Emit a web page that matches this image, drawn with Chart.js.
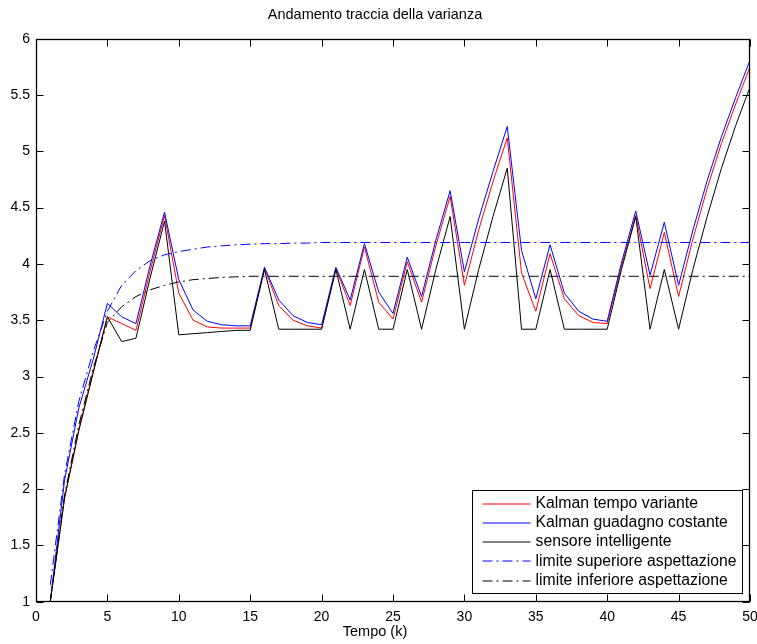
<!DOCTYPE html>
<html lang="it">
<head>
<meta charset="UTF-8">
<title>Andamento traccia della varianza</title>
<script src="https://cdn.jsdelivr.net/npm/chart.js@4"></script>
<style>
  body { margin: 0; background: #fff; }
  #wrap { width: 757px; height: 644px; }
</style>
</head>
<body>
<div id="wrap"><canvas id="chart" width="757" height="644"></canvas></div>
<script>
// istanti k
const tempo = [1, 2, 3, 4, 5, 6, 7, 8, 9, 10, 11, 12, 13, 14, 15, 16, 17, 18, 19, 20,
  21, 22, 23, 24, 25, 26, 27, 28, 29, 30, 31, 32, 33, 34, 35, 36, 37, 38, 39, 40,
  41, 42, 43, 44, 45, 46, 47, 48, 49, 50];

// traccia della varianza
const kalmanVariante = [1.00, 1.92, 2.53, 3.04, 3.53, 3.47, 3.41, 3.94, 4.43, 3.74,
  3.50, 3.44, 3.43, 3.43, 3.43, 3.96, 3.63, 3.50, 3.45, 3.43,
  3.96, 3.63, 4.15, 3.66, 3.51, 4.02, 3.66, 4.16, 4.60, 3.81,
  4.30, 4.73, 5.12, 3.92, 3.58, 4.09, 3.69, 3.54, 3.48, 3.47,
  3.98, 4.43, 3.78, 4.28, 3.71, 4.22, 4.67, 5.07, 5.42, 5.75];

const kalmanCostante = [1.00, 2.08, 2.72, 3.15, 3.65, 3.53, 3.47, 3.99, 4.46, 3.86,
  3.59, 3.49, 3.46, 3.45, 3.45, 3.97, 3.68, 3.54, 3.48, 3.46,
  3.97, 3.68, 4.18, 3.75, 3.56, 4.06, 3.71, 4.21, 4.65, 3.93,
  4.40, 4.82, 5.22, 4.12, 3.69, 4.17, 3.74, 3.58, 3.51, 3.49,
  4.01, 4.47, 3.90, 4.37, 3.81, 4.30, 4.74, 5.13, 5.48, 5.81];

const sensore = [1.00, 1.92, 2.52, 3.03, 3.53, 3.31, 3.34, 3.88, 4.38, 3.37,
  3.38, 3.39, 3.40, 3.41, 3.41, 3.95, 3.42, 3.42, 3.42, 3.42,
  3.95, 3.42, 3.95, 3.42, 3.42, 3.95, 3.42, 3.95, 4.42, 3.42,
  3.95, 4.42, 4.85, 3.42, 3.42, 3.95, 3.42, 3.42, 3.42, 3.42,
  3.95, 4.42, 3.42, 3.95, 3.42, 3.95, 4.42, 4.85, 5.23, 5.57];

const limiteSup = [1.15, 2.13, 2.78, 3.22, 3.58, 3.81, 3.94, 4.03, 4.08, 4.11,
  4.13, 4.15, 4.16, 4.17, 4.175, 4.18, 4.18, 4.185, 4.185, 4.19,
  4.19, 4.19, 4.19, 4.19, 4.19, 4.19, 4.19, 4.19, 4.19, 4.19,
  4.19, 4.19, 4.19, 4.19, 4.19, 4.19, 4.19, 4.19, 4.19, 4.19,
  4.19, 4.19, 4.19, 4.19, 4.19, 4.19, 4.19, 4.19, 4.19, 4.19];

const limiteInf = [1.00, 1.95, 2.57, 3.07, 3.48, 3.62, 3.71, 3.77, 3.81, 3.84,
  3.86, 3.87, 3.88, 3.885, 3.89, 3.89, 3.89, 3.89, 3.89, 3.89,
  3.89, 3.89, 3.89, 3.89, 3.89, 3.89, 3.89, 3.89, 3.89, 3.89,
  3.89, 3.89, 3.89, 3.89, 3.89, 3.89, 3.89, 3.89, 3.89, 3.89,
  3.89, 3.89, 3.89, 3.89, 3.89, 3.89, 3.89, 3.89, 3.89, 3.89];

const xTicks = [0, 5, 10, 15, 20, 25, 30, 35, 40, 45, 50];
const yTicks = [1, 1.5, 2, 2.5, 3, 3.5, 4, 4.5, 5, 5.5, 6];

const font = "'Liberation Sans', Arial, Helvetica, sans-serif";

const toXY = ys => ys.map((y, i) => ({ x: tempo[i], y: y }));

// riquadro stile matlab: bordo, tacche interne, legenda
const matlabBox = {
  id: 'matlabBox',
  afterDraw(chart) {
    const ctx = chart.ctx;
    const a = chart.chartArea;
    const sx = chart.scales.x, sy = chart.scales.y;
    const L = Math.round(a.left) + 0.5, R = Math.round(a.right) - 0.5;
    const T = Math.round(a.top) + 0.5, B = Math.round(a.bottom) - 0.5;
    const tk = 7;
    ctx.save();
    ctx.strokeStyle = '#000';
    ctx.lineWidth = 1;
    ctx.setLineDash([]);
    ctx.beginPath();
    xTicks.forEach(v => {
      const px = Math.round(sx.getPixelForValue(v)) + 0.5;
      ctx.moveTo(px, B); ctx.lineTo(px, B - tk);
      ctx.moveTo(px, T); ctx.lineTo(px, T + tk);
    });
    yTicks.forEach(v => {
      const py = Math.round(sy.getPixelForValue(v)) + 0.5;
      ctx.moveTo(L, py); ctx.lineTo(L + tk, py);
      ctx.moveTo(R, py); ctx.lineTo(R - tk, py);
    });
    ctx.stroke();
    ctx.lineWidth = 1.3;
    ctx.strokeRect(L, T, R - L, B - T);
    ctx.lineWidth = 1;

    // legenda
    const ds = chart.data.datasets;
    ctx.font = '15.8px ' + font;
    const maxW = Math.max(...ds.map(d => ctx.measureText(d.label).width));
    const rowH = 19.3, lineLen = 48;
    const w = Math.round(10 + lineLen + 5 + maxW + 6);
    const h = Math.round(ds.length * rowH + 6);
    const bx = Math.round(a.right - 8 - w) + 0.5;
    const by = Math.round(a.bottom - 9 - h) + 0.5;
    ctx.fillStyle = '#fff';
    ctx.fillRect(bx, by, w, h);
    ctx.strokeStyle = '#000';
    ctx.strokeRect(bx, by, w, h);
    ds.forEach((d, i) => {
      const cy = by + 13 + i * rowH;
      ctx.strokeStyle = d.borderColor;
      ctx.setLineDash(d.borderDash || []);
      ctx.beginPath();
      ctx.moveTo(bx + 10, Math.round(cy));
      ctx.lineTo(bx + 10 + lineLen, Math.round(cy));
      ctx.stroke();
      ctx.setLineDash([]);
      ctx.fillStyle = '#000';
      ctx.textBaseline = 'middle';
      ctx.textAlign = 'left';
      ctx.fillText(d.label, bx + 10 + lineLen + 5, cy);
    });
    ctx.restore();
  }
};

new Chart(document.getElementById('chart'), {
  type: 'line',
  data: {
    datasets: [
      { label: 'Kalman tempo variante', data: toXY(kalmanVariante), borderColor: '#ff0000', order: 5 },
      { label: 'Kalman guadagno costante', data: toXY(kalmanCostante), borderColor: '#0000ff', order: 4 },
      { label: 'sensore intelligente', data: toXY(sensore), borderColor: '#000000', order: 3 },
      { label: 'limite superiore aspettazione', data: toXY(limiteSup), borderColor: '#0000ff', borderDash: [10, 4, 2, 4], order: 2 },
      { label: 'limite inferiore aspettazione', data: toXY(limiteInf), borderColor: '#000000', borderDash: [10, 4, 2, 4], order: 1 }
    ]
  },
  options: {
    responsive: false,
    animation: false,
    elements: {
      line: { borderWidth: 1, tension: 0, fill: false },
      point: { radius: 0 }
    },
    layout: { padding: { left: 0, right: 7, top: 0, bottom: 0 } },
    scales: {
      x: {
        type: 'linear', min: 0, max: 50,
        grid: { display: false, drawTicks: false },
        border: { display: false },
        ticks: { stepSize: 5, color: '#000', padding: 7, maxRotation: 0, font: { family: font, size: 14 } },
        afterFit(s) { s.height = 30; s.paddingLeft = 0; s.paddingRight = 0; }
      },
      y: {
        min: 1, max: 6,
        grid: { display: false, drawTicks: false },
        border: { display: false },
        ticks: {
          stepSize: 0.5, color: '#000', padding: 6, font: { family: font, size: 14 },
          callback: v => String(v)
        },
        afterFit(s) { s.width = 36; s.paddingTop = 0; s.paddingBottom = 0; }
      }
    },
    plugins: {
      legend: { display: false },
      tooltip: { enabled: false },
      title: {
        display: true, text: 'Andamento traccia della varianza', color: '#000',
        font: { family: font, size: 14.5, weight: 'normal' },
        padding: { top: 6.3, bottom: 15 }
      },
      subtitle: {
        display: true, position: 'bottom', text: 'Tempo (k)', color: '#000',
        font: { family: font, size: 14.5, weight: 'normal' },
        padding: { top: -8.5, bottom: 3.4 }
      }
    }
  },
  plugins: [matlabBox]
});
</script>
</body>
</html>
